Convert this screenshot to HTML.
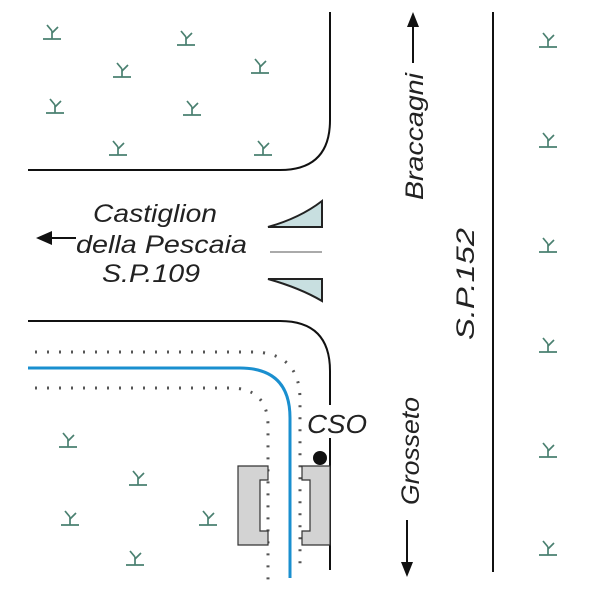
<!DOCTYPE html>
<html><head><meta charset="utf-8"><style>
html,body{margin:0;padding:0;background:#fff;}
svg{display:block;}
text{font-family:"Liberation Sans",sans-serif;font-style:italic;fill:#222;}
</style></head><body>
<svg width="600" height="600" viewBox="0 0 600 600" xmlns="http://www.w3.org/2000/svg">
<defs>
<g id="m" stroke="#4a8070" stroke-width="1.7" fill="none">
<line x1="-9" y1="7" x2="9" y2="7"/>
<line x1="0" y1="7" x2="0" y2="-1"/>
<line x1="0" y1="-1" x2="-5" y2="-7"/>
<line x1="0" y1="1" x2="6" y2="-5"/>
</g>
</defs>
<g fill="none" stroke="#111" stroke-width="2">
<path d="M330 12 V120 Q330 170 280 170 H28"/>
<path d="M28 321 H280 Q330 321 330 371 V405"/>
<path d="M330 438 V570"/>
<line x1="493" y1="12" x2="493" y2="572"/>
</g>
<path d="M28 368 H240 Q290 368 290 418 V578" fill="none" stroke="#1a8fcf" stroke-width="3"/>
<path d="M35 352 H252 Q300 352 300 400 V565" fill="none" stroke="#555" stroke-width="3" stroke-dasharray="2,10"/>
<path d="M35 388 H230 Q268 388 268 426 V582" fill="none" stroke="#555" stroke-width="3" stroke-dasharray="2,10"/>
<path d="M238 466 H268 V480 H260 V531 H268 V545 H238 Z" fill="#d3d3d3" stroke="#333" stroke-width="1.2"/>
<path d="M302 466 H330 V545 H302 V531 H310 V480 H302 Z" fill="#d3d3d3" stroke="#333" stroke-width="1.2"/>
<circle cx="320" cy="458" r="7" fill="#111"/>
<path d="M268 227 Q300 218 322 201 V227 Z" fill="#c8dfe0" stroke="#222" stroke-width="2"/>
<path d="M268 279 Q300 288 322 301 V279 Z" fill="#c8dfe0" stroke="#222" stroke-width="2"/>
<line x1="270" y1="252" x2="322" y2="252" stroke="#aaa" stroke-width="2"/>
<text x="93" y="222" font-size="25" textLength="124" lengthAdjust="spacingAndGlyphs">Castiglion</text>
<text x="76" y="253" font-size="25" textLength="171" lengthAdjust="spacingAndGlyphs">della Pescaia</text>
<text x="102" y="282" font-size="25" textLength="98" lengthAdjust="spacingAndGlyphs">S.P.109</text>
<line x1="48" y1="238" x2="76" y2="238" stroke="#111" stroke-width="2"/>
<path d="M36 238 L52 231 L52 245 Z" fill="#111"/>
<text x="307" y="433" font-size="26" textLength="60" lengthAdjust="spacingAndGlyphs">CSO</text>
<text transform="translate(423 200) rotate(-90)" font-size="25" textLength="127" lengthAdjust="spacingAndGlyphs">Braccagni</text>
<line x1="413" y1="24" x2="413" y2="63" stroke="#111" stroke-width="2"/>
<path d="M413 12 L407 27 L419 27 Z" fill="#111"/>
<text transform="translate(419 505) rotate(-90)" font-size="25" textLength="108" lengthAdjust="spacingAndGlyphs">Grosseto</text>
<line x1="407" y1="520" x2="407" y2="565" stroke="#111" stroke-width="2"/>
<path d="M407 577 L401 562 L413 562 Z" fill="#111"/>
<text transform="translate(474 340) rotate(-90)" font-size="25" textLength="112" lengthAdjust="spacingAndGlyphs">S.P.152</text>
<use href="#m" x="52" y="32"/><use href="#m" x="186" y="38"/><use href="#m" x="122" y="70"/>
<use href="#m" x="260" y="66"/><use href="#m" x="55" y="106"/><use href="#m" x="192" y="108"/>
<use href="#m" x="118" y="148"/><use href="#m" x="263" y="148"/>
<use href="#m" x="548" y="40"/><use href="#m" x="548" y="140"/><use href="#m" x="548" y="245"/>
<use href="#m" x="548" y="345"/><use href="#m" x="548" y="450"/><use href="#m" x="548" y="548"/>
<use href="#m" x="68" y="440"/><use href="#m" x="138" y="478"/><use href="#m" x="70" y="518"/>
<use href="#m" x="208" y="518"/><use href="#m" x="135" y="558"/>
</svg>
</body></html>
